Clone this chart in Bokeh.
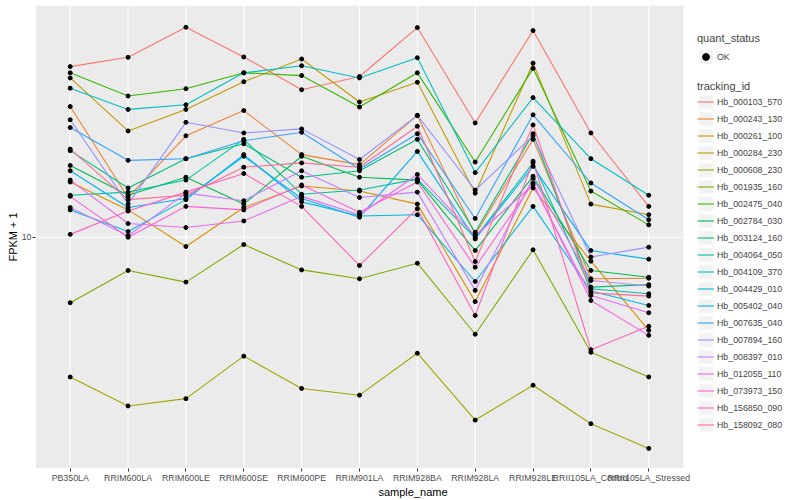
from bokeh.plotting import figure
from bokeh.models import (Range1d, FixedTicker, Legend, LegendItem, BoxAnnotation,
                          NumeralTickFormatter)
from bokeh.embed import file_html
from bokeh.resources import INLINE

samples = ["PB350LA", "RRIM600LA", "RRIM600LE", "RRIM600SE", "RRIM600PE", "RRIM901LA",
           "RRIM928BA", "RRIM928LA", "RRIM928LE", "RRII105LA_Control", "RRII105LA_Stressed"]

tracking_ids = ["Hb_000103_570", "Hb_000243_130", "Hb_000261_100", "Hb_000284_230",
                "Hb_000608_230", "Hb_001935_160", "Hb_002475_040", "Hb_002784_030",
                "Hb_003124_160", "Hb_004064_050", "Hb_004109_370", "Hb_004429_010",
                "Hb_005402_040", "Hb_007635_040", "Hb_007894_160", "Hb_008397_010",
                "Hb_012055_110", "Hb_073973_150", "Hb_156850_090", "Hb_158092_080"]

colors = ["#F8766D", "#EA8331", "#D89000", "#C09B00", "#A3A500", "#7CAE00", "#39B600",
          "#00BB4E", "#00BF7D", "#00C1A3", "#00BFC4", "#00BAE0", "#00B0F6", "#35A2FF",
          "#9590FF", "#C77CFF", "#E76BF3", "#FA62DB", "#FF62BC", "#FF6C91"]

# FPKM + 1 per sample (order of `samples`)
hb_000103_570 = [32.9, 35.1, 43.3, 35.2, 28.0, 30.7, 43.2, 22.2, 42.3, 20.7, 12.4]
hb_000243_130 = [24.9, 13.2, 20.3, 24.2, 17.8, 16.6, 23.4, 10.2, 19.8, 7.48, 7.51]
hb_000261_100 = [14.7, 12.1, 9.37, 12.3, 14.3, 13.8, 12.6, 6.38, 14.1, 8.46, 5.22]
hb_000284_230 = [30.4, 21.0, 24.4, 29.6, 34.7, 25.7, 29.5, 13.6, 33.7, 12.6, 11.7]
hb_000608_230 = [3.77, 3.08, 3.24, 4.36, 3.48, 3.32, 4.45, 2.79, 3.56, 2.72, 2.29]
hb_001935_160 = [6.33, 7.93, 7.31, 9.50, 7.96, 7.48, 8.34, 5.08, 9.16, 4.48, 3.77]
hb_002475_040 = [31.5, 26.8, 28.2, 31.5, 30.9, 24.8, 31.5, 16.9, 32.5, 13.8, 10.9]
hb_002784_030 = [16.5, 13.4, 15.2, 12.6, 17.6, 15.2, 14.9, 9.11, 15.3, 7.93, 7.56]
hb_003124_160 = [18.3, 14.1, 17.3, 19.2, 15.2, 15.9, 19.8, 10.35, 20.6, 7.06, 7.18]
hb_004064_050 = [13.4, 13.7, 14.9, 19.8, 13.5, 13.9, 15.0, 9.96, 16.8, 6.98, 6.74]
hb_004109_370 = [28.3, 24.4, 25.2, 31.5, 33.1, 30.4, 35.0, 15.7, 26.5, 17.3, 13.4]
hb_004429_010 = [12.1, 10.4, 13.0, 17.8, 12.8, 11.6, 11.7, 7.34, 12.4, 6.87, 6.21]
hb_005402_040 = [15.9, 12.3, 13.1, 17.6, 13.1, 11.5, 18.2, 9.88, 16.4, 9.11, 8.58]
hb_007635_040 = [21.5, 17.1, 17.3, 19.6, 20.8, 16.1, 20.6, 11.4, 23.5, 14.6, 11.3]
hb_007894_160 = [22.7, 12.6, 22.3, 20.7, 21.3, 17.2, 23.4, 13.9, 20.3, 8.71, 9.33]
hb_008397_010 = [12.3, 10.1, 13.6, 12.9, 15.9, 13.2, 13.7, 6.90, 15.1, 7.39, 7.11]
hb_012055_110 = [14.9, 11.0, 10.7, 11.2, 13.3, 11.7, 15.5, 10.1, 14.4, 6.66, 5.90]
hb_073973_150 = [13.3, 10.0, 12.4, 12.1, 14.4, 11.9, 14.7, 8.11, 14.6, 6.43, 5.04]
hb_156850_090 = [10.2, 12.0, 13.7, 15.6, 12.4, 8.21, 12.2, 5.79, 17.0, 4.56, 5.37]
hb_158092_080 = [18.5, 13.0, 13.4, 16.3, 16.8, 16.3, 21.7, 8.44, 21.9, 6.78, 6.63]

series = [hb_000103_570, hb_000243_130, hb_000261_100, hb_000284_230, hb_000608_230,
          hb_001935_160, hb_002475_040, hb_002784_030, hb_003124_160, hb_004064_050,
          hb_004109_370, hb_004429_010, hb_005402_040, hb_007635_040, hb_007894_160,
          hb_008397_010, hb_012055_110, hb_073973_150, hb_156850_090, hb_158092_080]

y_ticks = [10]
FONT = "Liberation Sans"

x_pos = list(range(len(samples)))          # category slots
PAD = 0.6                                   # ggplot discrete expansion
x_lo = x_pos[0] - PAD
x_hi_panel = x_pos[-1] + PAD
x_hi_frame = 12.45                          # frame extends over the legend area
y_lo, y_hi = 1.99, 50.4

p = figure(x_range=Range1d(x_lo, x_hi_frame), y_range=Range1d(y_lo, y_hi), y_axis_type="log",
           width=800, height=500,
           min_border_left=35, min_border_right=10, min_border_top=5, min_border_bottom=32,
           output_backend="svg", toolbar_location=None,
           background_fill_color="white", border_fill_color="white", outline_line_color=None)
p.grid.visible = False

# grey panel + white grid (ggplot look)
p.add_layout(BoxAnnotation(left=x_lo, right=x_hi_panel, fill_color="#EBEBEB", fill_alpha=1,
                           line_color=None, level="underlay"))
p.segment(x0=x_pos, y0=[y_lo] * len(x_pos), x1=x_pos, y1=[y_hi] * len(x_pos),
          line_color="white", line_width=1.1)
p.segment(x0=[x_lo] * len(y_ticks), y0=y_ticks, x1=[x_hi_panel] * len(y_ticks), y1=y_ticks,
          line_color="white", line_width=1.1)

p.xaxis.ticker = FixedTicker(ticks=x_pos, minor_ticks=[])
p.xaxis.major_label_overrides = {i: s for i, s in zip(x_pos, samples)}
p.yaxis.ticker = FixedTicker(ticks=y_ticks, minor_ticks=[])
p.yaxis.formatter = NumeralTickFormatter(format="0")

for ax in (p.xaxis[0], p.yaxis[0]):
    ax.axis_line_color = None
    ax.major_tick_line_color = "#333333"
    ax.major_tick_out = 3
    ax.major_tick_in = 0
    ax.minor_tick_line_color = None
    ax.major_label_text_font = FONT
    ax.major_label_text_font_size = "8.8px"
    ax.major_label_text_color = "#4D4D4D"
    ax.major_label_standoff = 1
    ax.axis_label_text_font = FONT
    ax.axis_label_text_font_size = "11px"
    ax.axis_label_text_font_style = "normal"
    ax.axis_label_text_color = "black"
    ax.axis_label_standoff = 0

p.xaxis.axis_label = "sample_name"
p.yaxis.axis_label = "FPKM + 1"

line_rs = [p.line(x=x_pos, y=vals, line_color=col, line_width=1.1)
           for vals, col in zip(series, colors)]
for vals in series:
    p.scatter(x=x_pos, y=vals, size=4, color="black")

# off-screen proxies for legend keys
key_bg = p.rect(x=[-100], y=[y_lo], width=1, height=1, fill_color="#F2F2F2", line_color=None)
dot_r = p.scatter(x=[-100], y=[y_lo], size=4, color="black")


def style(leg):
    leg.border_line_color = None
    leg.background_fill_alpha = 0
    leg.padding = 0
    leg.margin = 0
    leg.spacing = 0
    leg.glyph_width = 17
    leg.glyph_height = 17
    leg.label_height = 17
    leg.label_standoff = 3
    leg.label_text_font = FONT
    leg.label_text_font_size = "8.8px"
    leg.label_text_baseline = "middle"
    leg.title_text_font = FONT
    leg.title_text_font_size = "11px"
    leg.title_text_font_style = "normal"
    leg.title_standoff = 4


leg1 = Legend(items=[LegendItem(label="OK", renderers=[key_bg, dot_r])],
              title="quant_status", location=(662, 403))
leg2 = Legend(items=[LegendItem(label=t, renderers=[key_bg, r]) for t, r in zip(tracking_ids, line_rs)],
              title="tracking_id", location=(662, 35))
style(leg1)
style(leg2)
leg2.title_standoff = 1
p.add_layout(leg1)
p.add_layout(leg2)

open("out.html", "w").write(file_html(p, INLINE))
